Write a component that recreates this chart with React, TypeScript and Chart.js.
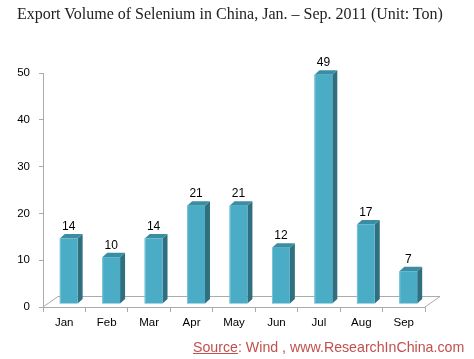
import React, { useEffect, useRef } from "react";
import { Chart, registerables } from "chart.js";

Chart.register(...registerables);

const categories = ["Jan", "Feb", "Mar", "Apr", "May", "Jun", "Jul", "Aug", "Sep"];
const exportVolume = [14, 10, 14, 21, 21, 12, 49, 17, 7];
const yMin = 0;
const yMax = 50;
const yStep = 10;

const titleText = "Export Volume of Selenium in China, Jan. \u2013 Sep. 2011 (Unit: Ton)";

const SX = 4.5;
const SY = -3;
const DX = 5;
const DY = -4.5;
const FLOOR_DX = 15;
const FLOOR_DY = -10.5;

const floorPlugin = {
  id: "floor3d",
  beforeDatasetsDraw(chart: any) {
    const { ctx, chartArea } = chart;
    const y0 = chart.scales.y.getPixelForValue(0);
    const l = chartArea.left;
    const r = chartArea.right;
    ctx.save();
    ctx.strokeStyle = "#ababab";
    ctx.lineWidth = 1;
    ctx.beginPath();
    ctx.moveTo(l, y0);
    ctx.lineTo(l + FLOOR_DX, y0 + FLOOR_DY);
    ctx.lineTo(r + FLOOR_DX, y0 + FLOOR_DY);
    ctx.lineTo(r, y0);
    ctx.stroke();
    ctx.restore();
  },
};

const bar3dPlugin = {
  id: "bar3d",
  afterDatasetsDraw(chart: any) {
    const { ctx } = chart;
    const meta = chart.getDatasetMeta(0);
    const data = chart.data.datasets[0].data;
    ctx.save();
    meta.data.forEach((bar: any, i: number) => {
      const { x, y, base, width } = bar.getProps(["x", "y", "base", "width"], true);
      const left = x - width / 2 + SX;
      const right = left + width;
      const top = y + SY;
      const bottom = base + SY;
      ctx.fillStyle = "#2f6f80";
      ctx.beginPath();
      ctx.moveTo(right, top);
      ctx.lineTo(right + DX, top + DY);
      ctx.lineTo(right + DX, bottom + DY);
      ctx.lineTo(right, bottom);
      ctx.closePath();
      ctx.fill();
      ctx.fillStyle = "#3a8ea3";
      ctx.beginPath();
      ctx.moveTo(left, top);
      ctx.lineTo(left + DX, top + DY);
      ctx.lineTo(right + DX, top + DY);
      ctx.lineTo(right, top);
      ctx.closePath();
      ctx.fill();
      ctx.fillStyle = "#4bacc6";
      ctx.fillRect(left, top, width, bottom - top);
      ctx.fillStyle = "#7cc6d8";
      ctx.fillRect(left, top, 1, bottom - top);
      ctx.fillStyle = "#000000";
      ctx.font = "12px 'Liberation Sans', Arial, sans-serif";
      ctx.textAlign = "center";
      ctx.textBaseline = "middle";
      ctx.fillText(String(data[i]), left + width / 2, top - 12);
    });
    ctx.restore();
  },
};

export default function App() {
  const ref = useRef<HTMLCanvasElement | null>(null);
  useEffect(() => {
    if (!ref.current) return;
    const chart = new Chart(ref.current, {
      type: "bar",
      data: {
        labels: categories,
        datasets: [
          {
            label: "Export Volume",
            data: exportVolume,
            backgroundColor: "rgba(0,0,0,0)",
            borderWidth: 0,
            barPercentage: 0.42,
            categoryPercentage: 1,
          },
        ],
      },
      options: {
        responsive: false,
        animation: false,
        devicePixelRatio: 1,
        layout: { padding: { left: 0, top: 73, right: 49, bottom: 22 } },
        plugins: {
          legend: { display: false },
          title: { display: false },
          tooltip: { enabled: false },
        },
        scales: {
          x: {
            offset: true,
            afterFit(scale: any) {
              scale.height = 30;
            },
            grid: {
              offset: true,
              drawOnChartArea: false,
              drawTicks: true,
              tickLength: 5,
              color: "#ababab",
            },
            border: { display: true, color: "#ababab" },
            ticks: {
              color: "#000000",
              padding: 4,
              font: { family: "'Liberation Sans', Arial, sans-serif", size: 11.5 },
            },
          },
          y: {
            min: yMin,
            max: yMax,
            afterFit(scale: any) {
              scale.width = 43;
            },
            grid: {
              drawOnChartArea: false,
              drawTicks: true,
              tickLength: 4,
              color: "#ababab",
            },
            border: { display: true, color: "#ababab" },
            ticks: {
              stepSize: yStep,
              color: "#000000",
              padding: 9,
              font: { family: "'Liberation Sans', Arial, sans-serif", size: 11.5 },
            },
          },
        },
      },
      plugins: [floorPlugin, bar3dPlugin],
    });
    return () => chart.destroy();
  }, []);

  return (
    <div
      style={{
        position: "fixed",
        left: 0,
        top: 0,
        width: 474,
        height: 359,
        background: "#ffffff",
        overflow: "hidden",
      }}
    >
      <canvas ref={ref} width={474} height={359} style={{ position: "absolute", left: 0, top: 0 }} />
      <div
        style={{
          position: "absolute",
          left: 17,
          top: 4,
          fontFamily: "'Liberation Serif', 'Times New Roman', serif",
          fontSize: 16,
          lineHeight: "20px",
          color: "#222222",
          whiteSpace: "nowrap",
        }}
      >
        {titleText}
      </div>
      <div
        style={{
          position: "absolute",
          left: 193,
          top: 337,
          fontFamily: "'Liberation Sans', Arial, sans-serif",
          fontSize: 14.2,
          lineHeight: "20px",
          color: "#c0504d",
          whiteSpace: "nowrap",
        }}
      >
        <span style={{ textDecoration: "underline" }}>Source</span>: Wind , www.ResearchInChina.com
      </div>
    </div>
  );
}
